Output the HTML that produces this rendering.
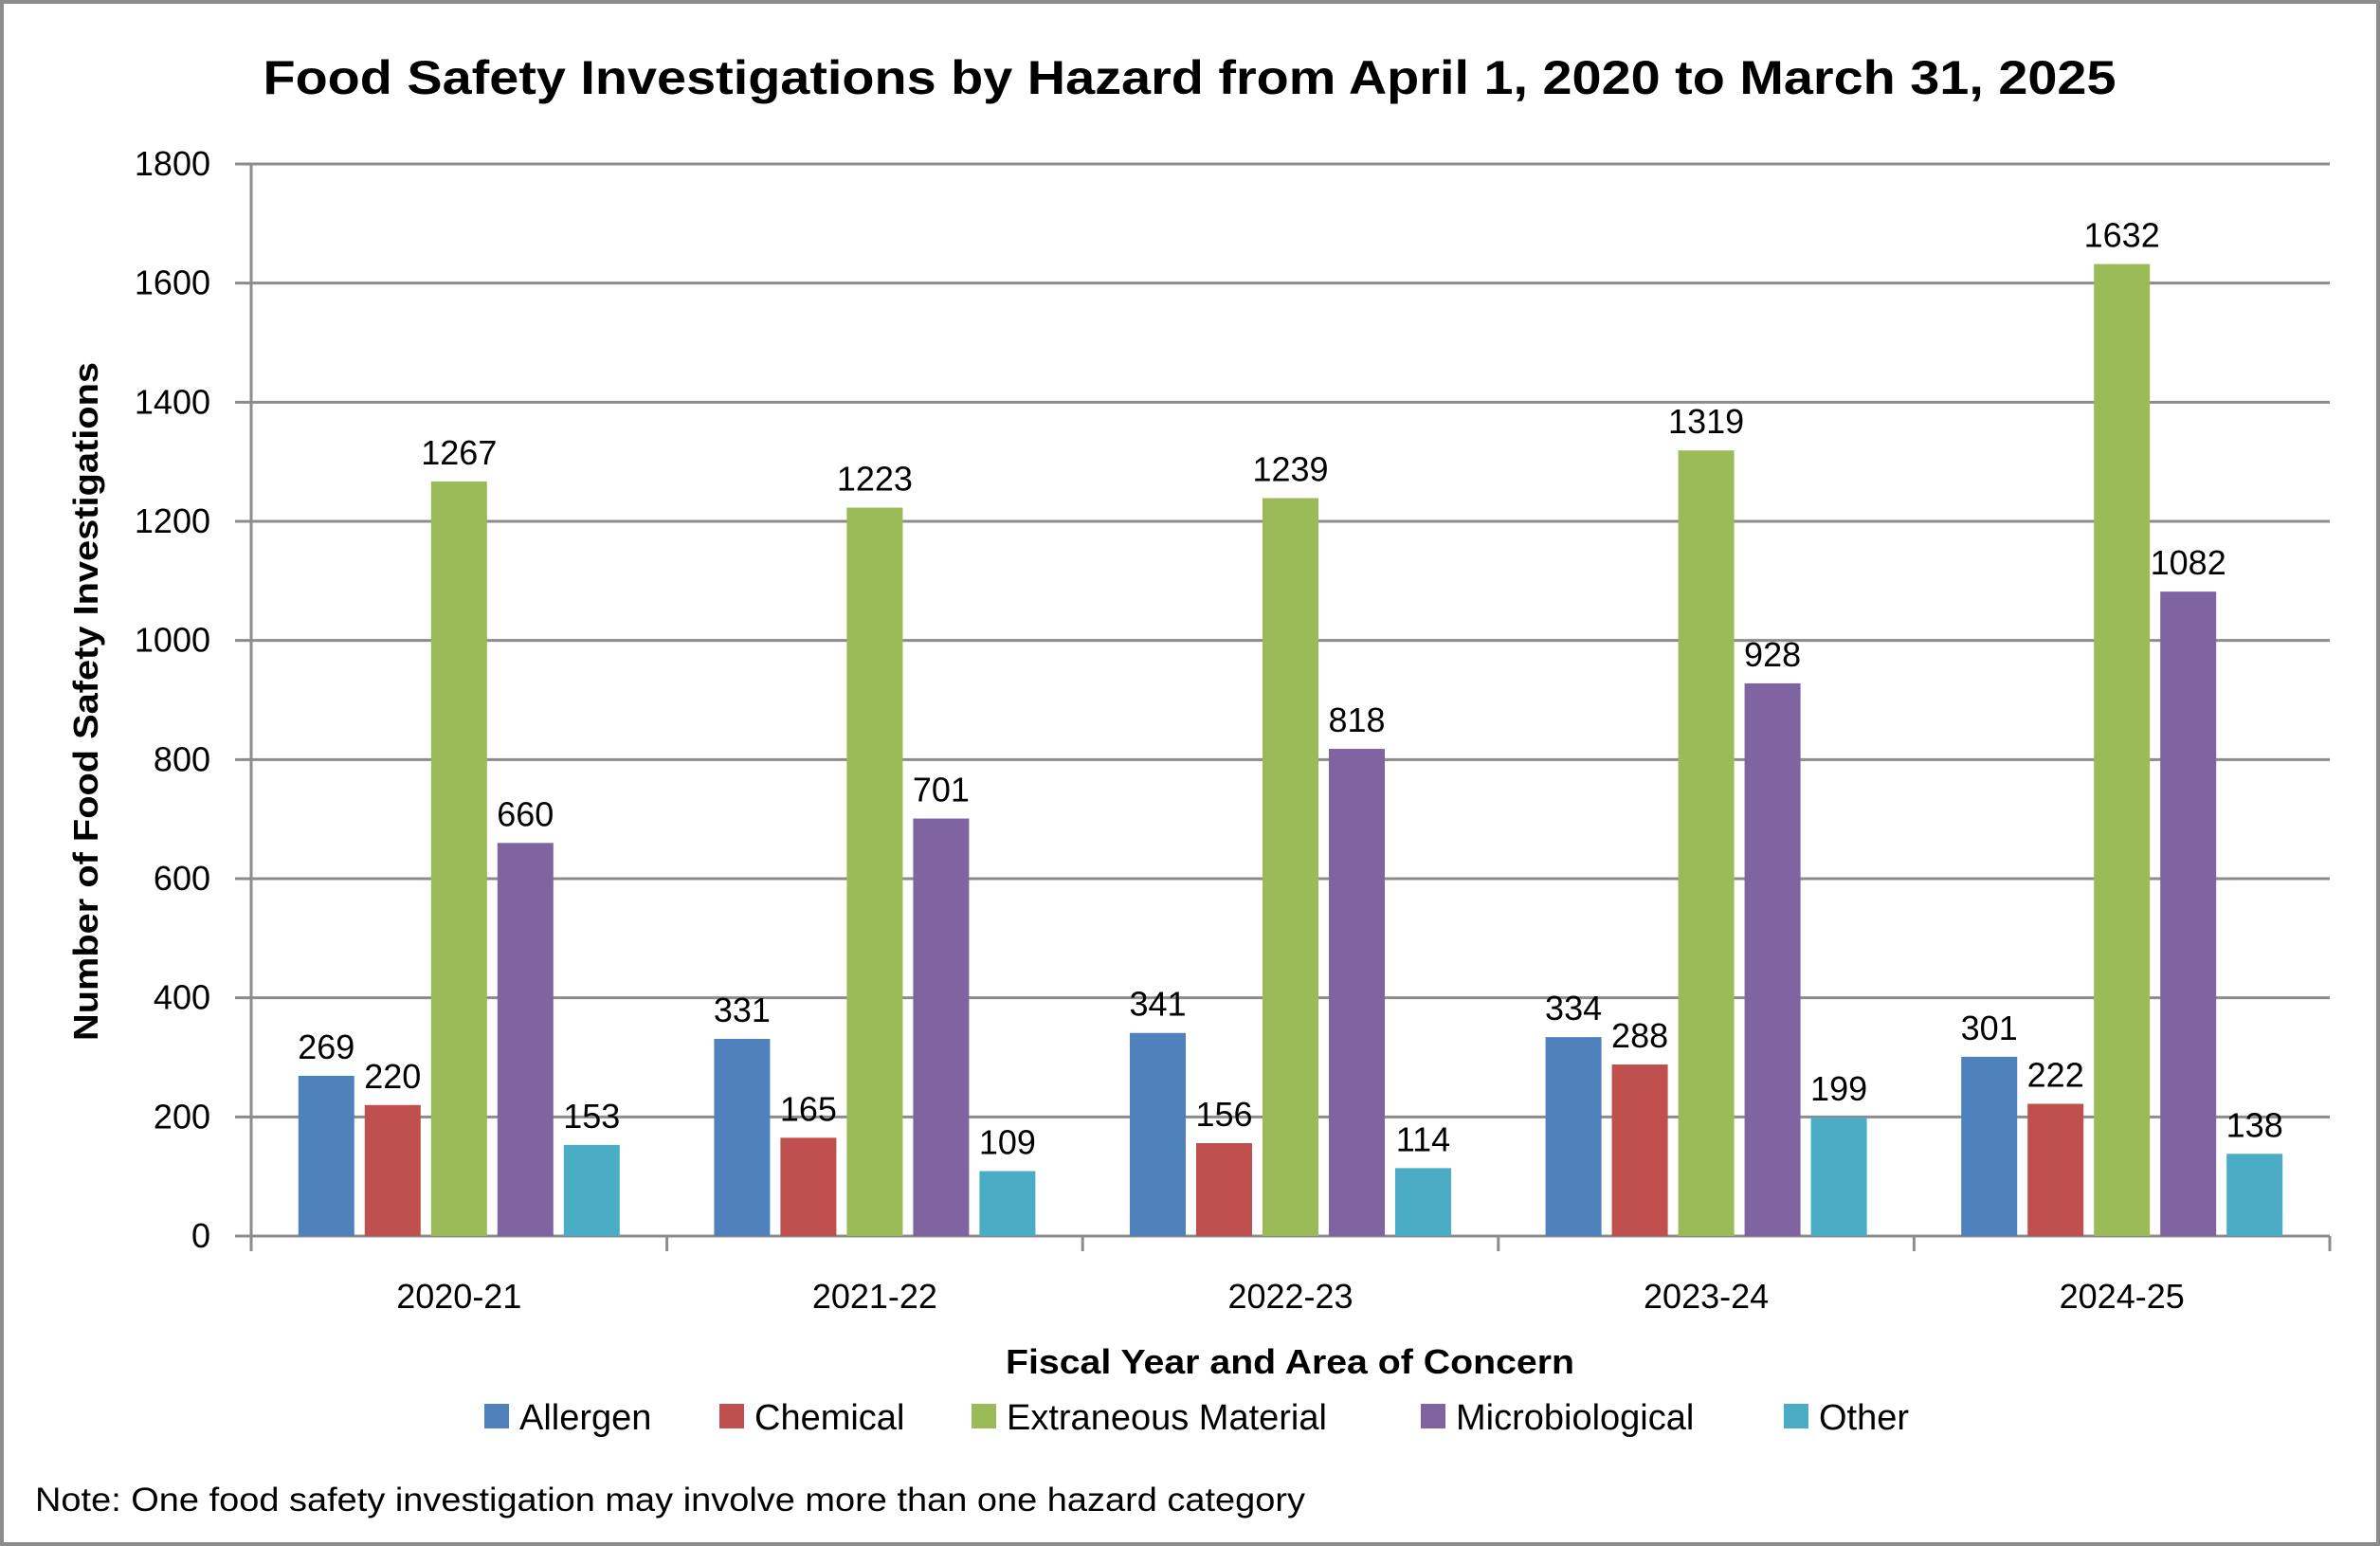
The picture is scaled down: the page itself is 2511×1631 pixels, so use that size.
<!DOCTYPE html>
<html><head><meta charset="utf-8"><style>
html,body{margin:0;padding:0;background:#fff}
svg{display:block;font-family:"Liberation Sans",sans-serif}
</style></head><body>
<svg id="chart" width="2511" height="1631" viewBox="0 0 2511 1631" xmlns="http://www.w3.org/2000/svg">
<rect x="2" y="2" width="2507" height="1627" fill="#fff" stroke="#8c8c8c" stroke-width="4"/>
<text x="1255" y="99" text-anchor="middle" font-size="50" font-weight="bold" textLength="1955" lengthAdjust="spacingAndGlyphs">Food Safety Investigations by Hazard from April 1, 2020 to March 31, 2025</text>
<g id="grid"></g><g id="bars"></g><g id="labels"></g><g id="axes"></g>
<text transform="translate(103,740) rotate(-90)" text-anchor="middle" font-size="36" font-weight="bold" textLength="716" lengthAdjust="spacingAndGlyphs">Number of Food Safety Investigations</text>
<text x="1361" y="1449" text-anchor="middle" font-size="36" font-weight="bold" textLength="600" lengthAdjust="spacingAndGlyphs">Fiscal Year and Area of Concern</text>
<g id="legend"></g>
<text x="37" y="1594" font-size="35" textLength="1340" lengthAdjust="spacingAndGlyphs">Note: One food safety investigation may involve more than one hazard category</text>
</svg>
<script>
const categories=["2020-21","2021-22","2022-23","2023-24","2024-25"];
const seriesNames=["Allergen","Chemical","Extraneous Material","Microbiological","Other"];
const allergen=[269,331,341,334,301];
const chemical=[220,165,156,288,222];
const extraneous=[1267,1223,1239,1319,1632];
const microbiological=[660,701,818,928,1082];
const other=[153,109,114,199,138];
const yTicks=[0,200,400,600,800,1000,1200,1400,1600,1800];
const series=[allergen,chemical,extraneous,microbiological,other];
const colors=["#4f81bd","#c0504d","#9bbb59","#8064a2","#4bacc6"];
const NS="http://www.w3.org/2000/svg";
const X0=265,X1=2458,Y0=1304,Y1=173,YMAX=1800;
const y=v=>Y0-(v/YMAX)*(Y0-Y1);
const gw=(X1-X0)/categories.length;
const xc=i=>X0+gw*(i+0.5);
function mk(tag,attrs,parent){const e=document.createElementNS(NS,tag);for(const k in attrs)e.setAttribute(k,attrs[k]);document.getElementById(parent).appendChild(e);return e;}
yTicks.forEach(t=>{
  const l=mk('line',{x1:248,x2:X1,y1:y(t),y2:y(t),stroke:'#8c8c8c','stroke-width':3},'grid');
  
  
  const tx=mk('text',{x:222,y:y(t)+12,'text-anchor':'end','font-size':36},'axes');
  tx.textContent=t;
  
  
});
const ax=mk('line',{x1:X0,x2:X0,y1:Y1,y2:Y0,stroke:'#8c8c8c','stroke-width':3},'axes');


for(let i=0;i<=categories.length;i++){
  const tk=mk('line',{x1:X0+gw*i,x2:X0+gw*i,y1:Y0,y2:Y0+16,stroke:'#8c8c8c','stroke-width':3},'axes');
  
  
}
categories.forEach((c,i)=>{
  const t=mk('text',{x:xc(i),y:1380,'text-anchor':'middle','font-size':36},'axes');
  t.textContent=c;
  
  
  series.forEach((s,j)=>{
    const bx=xc(i)+(j-2)*70-29.5;
    const r=mk('rect',{x:bx,y:y(s[i]),width:59,height:Y0-y(s[i]),fill:colors[j]},'bars');
    
    
    const lb=mk('text',{x:bx+29.5,y:y(s[i])-18,'text-anchor':'middle','font-size':36},'labels');
    lb.textContent=s[i];
    
    
  });
});
const legX=[511,759,1025,1499,1882];
seriesNames.forEach((n,j)=>{
  const sq=mk('rect',{x:legX[j],y:1481,width:26,height:26,fill:colors[j]},'legend');
  
  
  const t=mk('text',{x:legX[j]+37,y:1508,'font-size':38},'legend');
  t.textContent=n;
  
  
});
</script>
</body></html>
